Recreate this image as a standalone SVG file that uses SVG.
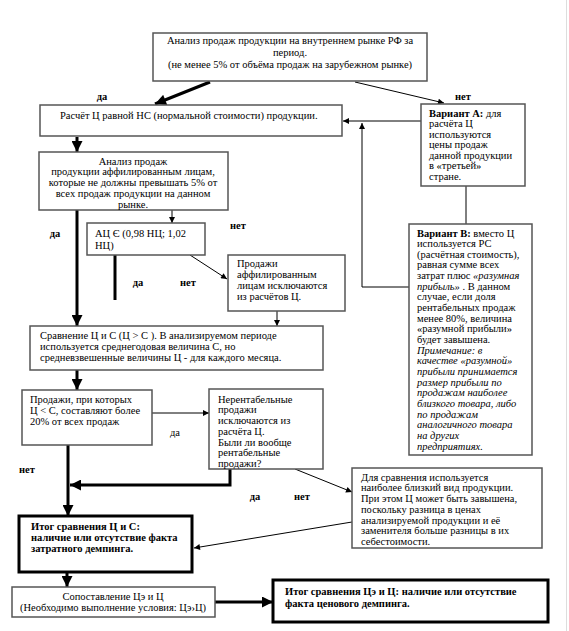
<svg xmlns="http://www.w3.org/2000/svg" width="569" height="631" viewBox="0 0 569 631">
<style>
.b{fill:#fff;stroke:#555;stroke-width:1.5}
.bt{fill:#fff;stroke:#000;stroke-width:3}
.t{font-family:'Liberation Serif','Times New Roman',Times,serif;font-size:10.5px;fill:#000}
.c{text-anchor:middle}
.bd{font-weight:bold}
.it{font-style:italic}
.th{stroke:#000;stroke-width:1;fill:none}
.tk{stroke:#000;stroke-width:3;fill:none}
</style>
<defs>
<marker id="a" viewBox="0 0 10 10" refX="10" refY="5" markerWidth="7" markerHeight="6" markerUnits="userSpaceOnUse" orient="auto"><path d="M0,0 L10,5 L0,10 z" fill="#000"/></marker>
<marker id="A" viewBox="0 0 10 10" refX="10" refY="5" markerWidth="12" markerHeight="11" markerUnits="userSpaceOnUse" orient="auto"><path d="M0,0 L10,5 L0,10 z" fill="#000"/></marker>
</defs>
<rect width="569" height="631" fill="#fff"/>
<line x1="566.5" y1="0" x2="566.5" y2="631" stroke="#ddd" stroke-width="1"/>

<g id="connectors">
<line class="tk" x1="210" y1="82" x2="155" y2="104" marker-end="url(#A)"/>
<line class="th" x1="355" y1="82" x2="444" y2="103" marker-end="url(#a)"/>
<line class="tk" x1="77" y1="137" x2="77" y2="152" marker-end="url(#A)"/>
<line class="th" x1="421" y1="121" x2="343" y2="121" marker-end="url(#a)"/>
<line class="th" x1="466" y1="186" x2="466" y2="224"/>
<polyline class="th" points="409,287 362,287 362,123" marker-end="url(#a)"/>
<line class="th" x1="172" y1="210" x2="172" y2="223" marker-end="url(#a)"/>
<line class="tk" x1="77" y1="210" x2="77" y2="326" marker-end="url(#A)"/>
<line class="tk" x1="115" y1="255" x2="115" y2="300"/>
<line class="th" x1="190" y1="255" x2="227" y2="279" marker-end="url(#a)"/>
<line class="th" x1="277" y1="311" x2="277" y2="326" marker-end="url(#a)"/>
<line class="tk" x1="77" y1="370" x2="77" y2="390" marker-end="url(#A)"/>
<line class="th" x1="152" y1="413" x2="209" y2="413" marker-end="url(#a)"/>
<line class="tk" x1="68" y1="445" x2="68" y2="516" marker-end="url(#A)"/>
<polyline class="tk" points="230,469 230,485 70,485" marker-end="url(#A)"/>
<line class="th" x1="295" y1="469" x2="352" y2="492" marker-end="url(#a)"/>
<line class="th" x1="352" y1="522" x2="194" y2="548" marker-end="url(#a)"/>
<line class="tk" x1="67" y1="573" x2="67" y2="587" marker-end="url(#A)"/>
<line class="tk" x1="215" y1="602" x2="273" y2="602" marker-end="url(#A)"/>
</g>

<g id="labels">
<text class="t c bd" x="102" y="100">да</text>
<text class="t c bd" x="463" y="100">нет</text>
<text class="t c bd" x="55" y="237">да</text>
<text class="t c bd" x="238" y="229">нет</text>
<text class="t c bd" x="138" y="286">да</text>
<text class="t c bd" x="188" y="286">нет</text>
<text class="t c" x="175" y="436">да</text>
<text class="t c bd" x="27" y="473">нет</text>
<text class="t c bd" x="255" y="500">да</text>
<text class="t c bd" x="302" y="500">нет</text>
</g>

<g id="n-top">
<rect class="b" x="153" y="33" width="274" height="48"/>
<text class="t c" x="290" y="44">Анализ продаж продукции на внутреннем рынке РФ за</text>
<text class="t c" x="290" y="56">период.</text>
<text class="t c" x="290" y="68">(не менее 5% от объёма продаж на зарубежном рынке)</text>
</g>

<g id="n-raschet">
<rect class="b" x="40" y="105" width="302" height="31"/>
<text class="t" x="60" y="118.5">Расчёт Ц  равной НС (нормальной стоимости) продукции.</text>
</g>

<g id="n-varA">
<rect class="b" x="421" y="104" width="104" height="82"/>
<text class="t" x="429" y="116.5"><tspan class="bd">Вариант А:</tspan> для</text>
<text class="t" x="429" y="127">расчёта Ц</text>
<text class="t" x="429" y="137.5">используются</text>
<text class="t" x="429" y="148">цены продаж</text>
<text class="t" x="429" y="158.5">данной продукции</text>
<text class="t" x="429" y="169">в  «третьей»</text>
<text class="t" x="429" y="179.5">стране.</text>
</g>

<g id="n-varB">
<rect class="b" x="409" y="224" width="123" height="231"/>
<text class="t" x="417" y="236.5"><tspan class="bd">Вариант В:</tspan> вместо Ц</text>
<text class="t" x="417" y="247.2">используется РС</text>
<text class="t" x="417" y="257.8">(расчётная стоимость),</text>
<text class="t" x="417" y="268.4">равная сумме всех</text>
<text class="t" x="417" y="279.1">затрат плюс <tspan class="it">«разумная</tspan></text>
<text class="t" x="417" y="289.7"><tspan class="it">прибыль»</tspan> . В данном</text>
<text class="t" x="417" y="300.4">случае, если доля</text>
<text class="t" x="417" y="311">рентабельных продаж</text>
<text class="t" x="417" y="321.7">менее 80%, величина</text>
<text class="t" x="417" y="332.3">«разумной прибыли»</text>
<text class="t" x="417" y="343">будет завышена.</text>
<text class="t it" x="417" y="353.6">Примечание: в</text>
<text class="t it" x="417" y="364.3">качестве «разумной»</text>
<text class="t it" x="417" y="374.9">прибыли принимается</text>
<text class="t it" x="417" y="385.6">размер прибыли по</text>
<text class="t it" x="417" y="396.2">продажам наиболее</text>
<text class="t it" x="417" y="406.9">близкого товара, либо</text>
<text class="t it" x="417" y="417.5">по продажам</text>
<text class="t it" x="417" y="428.2">аналогичного товара</text>
<text class="t it" x="417" y="438.8">на других</text>
<text class="t it" x="417" y="449.5">предприятиях.</text>
</g>

<g id="n-affil">
<rect class="b" x="39" y="152" width="189" height="58"/>
<text class="t c" x="133" y="164.5">Анализ продаж</text>
<text class="t c" x="133" y="175">продукции аффилированным лицам,</text>
<text class="t c" x="133" y="186">которые не должны превышать 5% от</text>
<text class="t c" x="133" y="197">всех продаж продукции на данном</text>
<text class="t c" x="133" y="208">рынке.</text>
</g>

<g id="n-ac">
<rect class="b" x="87" y="223" width="118" height="32"/>
<text class="t" x="95" y="236.5">АЦ Є (0,98 НЦ; 1,02</text>
<text class="t" x="95" y="248.5">НЦ)</text>
</g>

<g id="n-excl">
<rect class="b" x="228" y="255" width="117" height="56"/>
<text class="t" x="237" y="266.5">Продажи</text>
<text class="t" x="237" y="277.5">аффилированным</text>
<text class="t" x="237" y="288.5">лицам исключаются</text>
<text class="t" x="237" y="299.5">из  расчётов Ц.</text>
</g>

<g id="n-sravn">
<rect class="b" x="30" y="326" width="293" height="44"/>
<text class="t" x="40" y="338.5">Сравнение Ц и С  (Ц &gt; С ). В анализируемом периоде</text>
<text class="t" x="40" y="349.5">используется среднегодовая величина С, но</text>
<text class="t" x="40" y="360.5">средневзвешенные величины Ц - для каждого месяца.</text>
</g>

<g id="n-prodazhi">
<rect class="b" x="22" y="390" width="130" height="55"/>
<text class="t" x="30" y="402.5">Продажи, при которых</text>
<text class="t" x="30" y="413.5">Ц &lt;  С, составляют более</text>
<text class="t" x="30" y="424.5">20% от всех продаж</text>
</g>

<g id="n-nerent">
<rect class="b" x="209" y="389" width="114" height="80"/>
<text class="t" x="218" y="402.5">Нерентабельные</text>
<text class="t" x="218" y="413.2">продажи</text>
<text class="t" x="218" y="424">исключаются из</text>
<text class="t" x="218" y="434.7">расчёта Ц.</text>
<text class="t" x="218" y="445.5">Были ли вообще</text>
<text class="t" x="218" y="456.2">рентабельные</text>
<text class="t" x="218" y="467">продажи?</text>
</g>

<g id="n-dlya">
<rect class="b" x="352" y="468" width="190" height="80"/>
<text class="t" x="361" y="480.5">Для сравнения используется</text>
<text class="t" x="361" y="491.2">наиболее близкий вид  продукции.</text>
<text class="t" x="361" y="502">При этом  Ц может быть завышена,</text>
<text class="t" x="361" y="512.7">поскольку разница в  ценах</text>
<text class="t" x="361" y="523.5">анализируемой продукции и её</text>
<text class="t" x="361" y="534.2">заменителя больше разницы в их</text>
<text class="t" x="361" y="545">себестоимости.</text>
</g>

<g id="n-itog1">
<rect class="bt" x="19" y="516" width="173" height="56"/>
<text class="t bd" x="31" y="530">Итог сравнения Ц и С:</text>
<text class="t bd" x="31" y="541">наличие или отсутствие факта</text>
<text class="t bd" x="31" y="552">затратного демпинга.</text>
</g>

<g id="n-sopost">
<rect class="b" x="12" y="587" width="203" height="30"/>
<text class="t c" x="113" y="600">Сопоставление Цэ и Ц</text>
<text class="t c" x="113" y="611">(Необходимо выполнение условия:  Цэ›Ц)</text>
</g>

<g id="n-itog2">
<rect class="bt" x="273" y="580" width="275" height="42"/>
<text class="t bd" x="285" y="595">Итог сравнения Цэ и Ц: наличие или отсутствие</text>
<text class="t bd" x="285" y="607">факта ценового демпинга.</text>
</g>
</svg>
